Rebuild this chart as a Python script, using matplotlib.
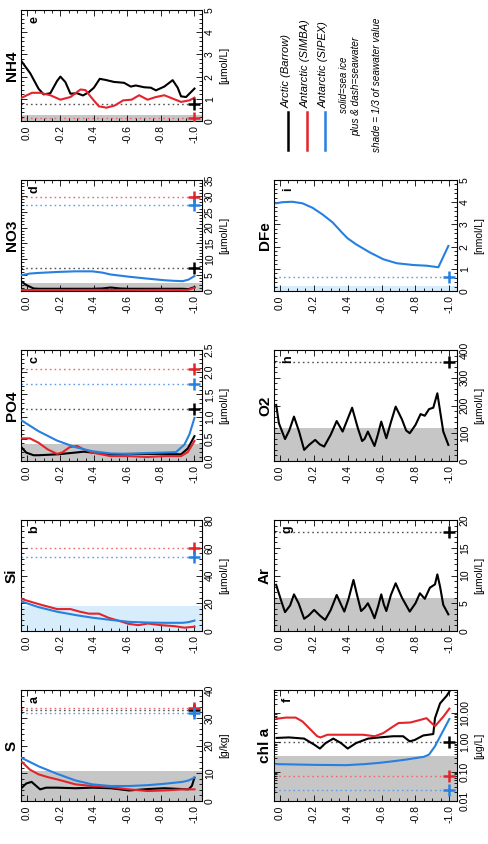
import matplotlib
matplotlib.use("Agg")
import matplotlib.pyplot as plt
from matplotlib.ticker import AutoMinorLocator, FixedLocator, FixedFormatter, FormatStrFormatter, MultipleLocator

plt.rcParams["font.family"] = ["Liberation Sans", "DejaVu Sans"]
plt.rcParams["axes.unicode_minus"] = False

BLACK = "#000000"
RED = "#e3242b"
BLUE = "#2680e0"
DOT = {BLACK: "#555555", RED: "#ef6b6b", BLUE: "#5f9fe8"}
SHADE = {BLACK: "#c6c6c6", BLUE: "#d8edfb"}

SEA_DEPTH = -1.0
DEPTH_TICKS = [0.0, -0.2, -0.4, -0.6, -0.8, -1.0]

# ---- a) salinity [g/kg]
s_arc_z = [0.03, 0.004, -0.028, -0.079, -0.115, -0.18, -0.29, -0.39, -0.50, -0.61, -0.72, -0.82, -0.93, -0.965, -0.985, -1.0]
s_arc_v = [4.8, 6.3, 6.9, 4.2, 4.8, 4.8, 4.6, 4.8, 4.6, 3.8, 4.3, 4.6, 4.3, 4.2, 5.5, 8.4]
s_sim_z = [0.03, -0.018, -0.07, -0.125, -0.18, -0.29, -0.39, -0.50, -0.61, -0.72, -0.82, -0.93, -1.0]
s_sim_v = [14.1, 11.3, 9.6, 8.6, 7.8, 6.0, 5.4, 5.0, 4.2, 3.6, 3.8, 4.2, 4.2]
s_sip_z = [0.03, -0.07, -0.18, -0.29, -0.39, -0.50, -0.61, -0.72, -0.82, -0.93, -0.965, -1.0]
s_sip_v = [15.5, 12.5, 9.8, 7.4, 6.0, 5.4, 5.4, 5.7, 6.2, 6.9, 7.4, 8.4]
s_sea = {BLACK: 32.8, RED: 33.4, BLUE: 31.6}

# ---- b) silicate [umol/L]
si_sim_z = [0.03, -0.073, -0.18, -0.26, -0.31, -0.37, -0.43, -0.49, -0.545, -0.605, -0.664, -0.723, -0.80, -0.88, -0.94, -1.0]
si_sim_v = [23, 19.3, 15.8, 15.8, 14.1, 12.5, 12.5, 9.4, 7.5, 5.2, 4.2, 5.4, 4.2, 3.5, 2.4, 3.1]
si_sip_z = [0.03, -0.07, -0.18, -0.29, -0.39, -0.50, -0.61, -0.72, -0.82, -0.93, -0.965, -1.0]
si_sip_v = [21.2, 17.2, 13.9, 11.5, 9.6, 8.0, 6.6, 6.1, 5.9, 5.9, 6.4, 7.5]
si_sea = {RED: 60.0, BLUE: 53.0}

# ---- c) phosphate [umol/L]
po4_arc_z = [0.03, 0.004, -0.04, -0.07, -0.18, -0.29, -0.34, -0.39, -0.50, -0.61, -0.72, -0.82, -0.92, -0.96, -1.0]
po4_arc_v = [0.30, 0.19, 0.13, 0.13, 0.15, 0.19, 0.21, 0.19, 0.15, 0.16, 0.16, 0.16, 0.15, 0.28, 0.56]
po4_sim_z = [0.03, -0.018, -0.07, -0.125, -0.18, -0.21, -0.255, -0.30, -0.34, -0.39, -0.50, -0.61, -0.72, -0.82, -0.92, -0.96, -1.0]
po4_sim_v = [0.51, 0.51, 0.41, 0.26, 0.16, 0.19, 0.31, 0.34, 0.26, 0.19, 0.11, 0.11, 0.09, 0.11, 0.11, 0.20, 0.45]
po4_sip_z = [0.03, -0.07, -0.18, -0.29, -0.39, -0.50, -0.61, -0.72, -0.82, -0.89, -0.94, -0.97, -1.0]
po4_sip_v = [0.91, 0.67, 0.46, 0.31, 0.22, 0.17, 0.16, 0.18, 0.19, 0.20, 0.37, 0.60, 0.97]
po4_sea = {BLACK: 1.18, RED: 2.07, BLUE: 1.73}

# ---- d) nitrate [umol/L]
no3_arc_z = [0.03, 0.004, -0.04, -0.07, -0.18, -0.29, -0.39, -0.45, -0.50, -0.555, -0.61, -0.72, -0.82, -0.93, -0.965, -1.0]
no3_arc_v = [2.9, 1.9, 0.8, 0.7, 0.7, 0.7, 0.7, 0.8, 1.1, 0.8, 0.7, 0.7, 0.7, 0.7, 0.6, 1.2]
no3_sim_z = [0.03, -0.18, -0.39, -0.61, -0.82, -0.93, -0.965, -1.0]
no3_sim_v = [0.3, 0.3, 0.35, 0.3, 0.35, 0.3, 0.4, 1.0]
no3_sip_z = [0.03, -0.018, -0.07, -0.18, -0.29, -0.39, -0.45, -0.50, -0.61, -0.72, -0.82, -0.88, -0.93, -0.965, -1.0]
no3_sip_v = [5.0, 5.5, 5.7, 6.0, 6.2, 6.2, 5.8, 5.2, 4.5, 3.9, 3.4, 3.2, 3.1, 3.6, 4.7]
no3_sea = {BLACK: 7.4, RED: 29.5, BLUE: 27.2}

# ---- e) ammonium [umol/L]
nh4_arc_z = [0.03, -0.02, -0.07, -0.10, -0.14, -0.18, -0.20, -0.23, -0.26, -0.30, -0.335, -0.37, -0.40, -0.435,
             -0.47, -0.52, -0.58, -0.62, -0.65, -0.70, -0.74, -0.77, -0.82, -0.87, -0.90, -0.92, -0.95, -1.0]
nh4_arc_v = [2.67, 2.15, 1.45, 1.2, 1.25, 1.8, 2.0, 1.75, 1.23, 1.25, 1.15, 1.3, 1.5, 1.9,
             1.85, 1.76, 1.72, 1.55, 1.6, 1.52, 1.5, 1.38, 1.55, 1.84, 1.5, 1.11, 1.08, 1.46]
nh4_sim_z = [0.03, -0.03, -0.08, -0.14, -0.20, -0.26, -0.32, -0.35, -0.39, -0.43, -0.475, -0.525, -0.575,
             -0.625, -0.67, -0.72, -0.77, -0.82, -0.86, -0.92, -0.97, -1.0]
nh4_sim_v = [1.05, 1.27, 1.27, 1.16, 0.96, 1.08, 1.42, 1.39, 1.01, 0.66, 0.6, 0.7, 0.93,
             0.96, 1.16, 0.96, 1.08, 1.16, 1.04, 0.86, 0.93, 1.05]
nh4_sea = {BLACK: 0.75, RED: 0.15}

# ---- f) chlorophyll a [ug/L]
chl_arc_z = [0.02, -0.053, -0.143, -0.202, -0.236, -0.27, -0.315, -0.36, -0.40, -0.45, -0.52, -0.588,
             -0.667, -0.727, -0.766, -0.796, -0.846, -0.905, -0.915, -0.945, -0.984, -1.0]
chl_arc_v = [1.4, 1.46, 1.33, 0.83, 0.61, 0.94, 1.33, 0.94, 0.61, 0.94, 1.33, 1.46,
             1.6, 1.6, 1.07, 1.2, 1.7, 1.9, 6.6, 21, 38, 53]
chl_sim_z = [0.02, -0.034, -0.093, -0.133, -0.182, -0.22, -0.24, -0.28, -0.39, -0.49, -0.56, -0.61,
             -0.66, -0.70, -0.77, -0.83, -0.865, -0.895, -0.915, -0.965, -1.0]
chl_sim_v = [6.3, 6.9, 6.9, 5.1, 2.65, 1.6, 1.46, 1.8, 1.8, 1.8, 1.6, 2.04,
             3.2, 4.5, 4.7, 5.8, 6.6, 4.5, 3.5, 7.5, 14]
chl_sip_z = [0.02, -0.2, -0.39, -0.5, -0.59, -0.68, -0.75, -0.85, -0.88, -0.915, -0.955, -1.0]
chl_sip_v = [0.18, 0.17, 0.166, 0.18, 0.20, 0.23, 0.26, 0.32, 0.38, 0.73, 2.0, 6.2]
chl_sea = {BLACK: 1.0, RED: 0.071, BLUE: 0.023}

# ---- g) argon [umol/L]
ar_arc_z = [0.022, -0.01, -0.03, -0.06, -0.083, -0.11, -0.143, -0.17, -0.202, -0.235, -0.267, -0.30, -0.335,
            -0.36, -0.38, -0.405, -0.434, -0.455, -0.479, -0.50, -0.519, -0.538, -0.558, -0.58, -0.598,
            -0.613, -0.628, -0.655, -0.683, -0.72, -0.766, -0.80, -0.826, -0.855, -0.885, -0.915, -0.929,
            -0.945, -0.964, -0.994]
ar_arc_v = [8.3, 5.2, 3.4, 4.6, 6.6, 5.0, 2.2, 2.8, 3.8, 2.8, 2.0, 3.8, 6.5,
            4.8, 3.5, 5.8, 9.2, 6.5, 3.6, 4.2, 5.0, 3.8, 2.3, 4.5, 6.6,
            4.8, 3.6, 6.5, 8.6, 6.0, 3.5, 5.0, 6.8, 5.8, 7.8, 8.4, 10.2,
            8.0, 4.7, 3.0]
ar_sea = {BLACK: 17.9}

# ---- h) oxygen [umol/L]
o2_arc_z = [0.022, 0.006, -0.03, -0.055, -0.083, -0.113, -0.143, -0.172, -0.208, -0.235, -0.261, -0.30, -0.335,
            -0.37, -0.426, -0.46, -0.485, -0.50, -0.519, -0.558, -0.578, -0.598, -0.628, -0.655, -0.683,
            -0.72, -0.745, -0.766, -0.80, -0.83, -0.855, -0.88, -0.905, -0.929, -0.964, -0.994]
o2_arc_v = [202, 136, 79, 110, 160, 106, 40, 58, 76, 60, 52, 95, 144,
            106, 192, 118, 72, 80, 106, 54, 95, 142, 82, 140, 196,
            150, 110, 100, 130, 169, 163, 187, 192, 244, 106, 58]
o2_sea = {BLACK: 356}

# ---- i) dissolved iron [nmol/L]
dfe_sip_z = [0.022, -0.014, -0.073, -0.133, -0.192, -0.251, -0.311, -0.370, -0.40, -0.45, -0.53, -0.61,
             -0.69, -0.788, -0.865, -0.935, -0.994]
dfe_sip_v = [3.95, 4.0, 4.02, 3.95, 3.75, 3.45, 3.09, 2.6, 2.37, 2.1, 1.74, 1.43,
             1.25, 1.17, 1.14, 1.07, 2.03]
dfe_sea = {BLUE: 0.65}

panels = [
    # title, letter, unit, ylim, major, fmt, shade colour, series, seawater, column, row
    ("S", "a", "[g/kg]", (0, 40), 10, "%d", BLACK,
     [(s_arc_z, s_arc_v, BLACK), (s_sim_z, s_sim_v, RED), (s_sip_z, s_sip_v, BLUE)], s_sea, 0, 4),
    ("Si", "b", "[µmol/L]", (0, 80), 20, "%d", BLUE,
     [(si_sim_z, si_sim_v, RED), (si_sip_z, si_sip_v, BLUE)], si_sea, 0, 3),
    ("PO4", "c", "[µmol/L]", (0, 2.5), 0.5, "%.1f", BLACK,
     [(po4_arc_z, po4_arc_v, BLACK), (po4_sim_z, po4_sim_v, RED), (po4_sip_z, po4_sip_v, BLUE)], po4_sea, 0, 2),
    ("NO3", "d", "[µmol/L]", (0, 35), 5, "%d", BLACK,
     [(no3_arc_z, no3_arc_v, BLACK), (no3_sim_z, no3_sim_v, RED), (no3_sip_z, no3_sip_v, BLUE)], no3_sea, 0, 1),
    ("NH4", "e", "[µmol/L]", (0, 5), 1, "%d", BLACK,
     [(nh4_arc_z, nh4_arc_v, BLACK), (nh4_sim_z, nh4_sim_v, RED)], nh4_sea, 0, 0),
    ("chl a", "f", "[µg/L]", (0.01, 60), None, None, BLACK,
     [(chl_arc_z, chl_arc_v, BLACK), (chl_sim_z, chl_sim_v, RED), (chl_sip_z, chl_sip_v, BLUE)], chl_sea, 1, 4),
    ("Ar", "g", "[µmol/L]", (0, 20), 5, "%d", BLACK,
     [(ar_arc_z, ar_arc_v, BLACK)], ar_sea, 1, 3),
    ("O2", "h", "[µmol/L]", (0, 400), 100, "%d", BLACK,
     [(o2_arc_z, o2_arc_v, BLACK)], o2_sea, 1, 2),
    ("DFe", "i", "[nmol/L]", (0, 5), 1, "%d", BLUE,
     [(dfe_sip_z, dfe_sip_v, BLUE)], dfe_sea, 1, 1),
]

W, H = 489, 844
fig = plt.figure(figsize=(W / 100, H / 100), dpi=100)

col_x = [21, 274]
col_w = [181, 183]
row_top = [10, 180, 350, 520, 690]
box_h = 111
xlim = (0.035, -1.045)

for title, letter, unit, ylim, major, fmt, shade_c, series, sea, col, row in panels:
    ax = fig.add_axes([col_x[col] / W, 1 - (row_top[row] + box_h) / H, col_w[col] / W, box_h / H])
    ax.set_xlim(*xlim)
    if major is None:
        ax.set_yscale("log")
        ax.set_ylim(*ylim)
        ax.yaxis.set_major_locator(FixedLocator([0.01, 0.1, 1, 10]))
        ax.yaxis.set_major_formatter(FixedFormatter(["0.01", "0.10", "1.00", "10.00"]))
    else:
        ax.set_ylim(*ylim)
        ax.yaxis.set_major_locator(MultipleLocator(major))
        ax.yaxis.set_minor_locator(AutoMinorLocator(5))
        ax.yaxis.set_major_formatter(FormatStrFormatter(fmt))

    # shade = 1/3 of seawater value
    ax.axhspan(ylim[0], sea[shade_c] / 3.0, color=SHADE[shade_c], lw=0, zorder=0)

    frac = (xlim[0] - SEA_DEPTH) / (xlim[0] - xlim[1])
    for c, v in sea.items():
        ax.axhline(v, xmin=0, xmax=frac, color=DOT[c], lw=1.0, ls=(0, (1.2, 2.2)), zorder=1)
        ax.plot(SEA_DEPTH, v, "+", color=c, ms=9, mew=1.8, zorder=4)

    for z, v, c in series:
        ax.plot(z, v, color=c, lw=1.5, zorder=3)

    ax.set_xticks(DEPTH_TICKS)
    ax.xaxis.set_major_formatter(FormatStrFormatter("%.1f"))
    ax.xaxis.set_minor_locator(MultipleLocator(0.05))
    ax.tick_params(which="both", direction="in", top=True, bottom=True, left=True, right=True,
                   labelleft=False, labelright=True, labelsize=7.5, width=0.6)
    ax.tick_params(which="major", length=4)
    ax.tick_params(which="minor", length=2)
    ax.tick_params(axis="x", labelrotation=90, pad=3)
    ax.tick_params(axis="y", pad=2)
    for lab in ax.get_yticklabels():
        lab.set_rotation(90)
        lab.set_va("center")
        lab.set_ha("left")
    ax.yaxis.set_label_position("right")
    ax.set_ylabel(unit, fontsize=7.5, rotation=90, labelpad=3)
    for sp in ax.spines.values():
        sp.set_linewidth(0.8)

    ax.annotate(title, xy=(0, 0.5), xycoords="axes fraction", xytext=(-9, 0),
                textcoords="offset pixels", rotation=90, ha="center", va="center",
                fontsize=11, fontweight="bold")
    ax.text(0.075, 0.915, letter, transform=ax.transAxes, rotation=90, ha="center",
            va="center", fontsize=9, fontweight="bold")

# legend block (pixel coordinates of the page)
lax = fig.add_axes([274 / W, 1 - 160 / H, 183 / W, 150 / H])
lax.set_xlim(274, 457)
lax.set_ylim(160, 10)
lax.axis("off")
legend_names = ["Arctic (Barrow)", "Antarctic (SIMBA)", "Antarctic (SIPEX)"]
legend_colors = [BLACK, RED, BLUE]
legend_x = [288, 307, 325]
for name, c, x in zip(legend_names, legend_colors, legend_x):
    lax.plot([x, x], [112, 150], color=c, lw=1.8)
    lax.text(x - 1, 108, name, rotation=90, ha="center", va="bottom", fontsize=8, style="italic")
lax.text(344, 85, "solid=sea ice", rotation=90, ha="center", va="center", fontsize=7, style="italic")
lax.text(356, 86, "plus & dash=seawater", rotation=90, ha="center", va="center", fontsize=7.2, style="italic")
lax.text(377, 85, "shade = 1/3 of seawater value", rotation=90, ha="center", va="center", fontsize=7.2, style="italic")

fig.savefig("out.png", dpi=100)
